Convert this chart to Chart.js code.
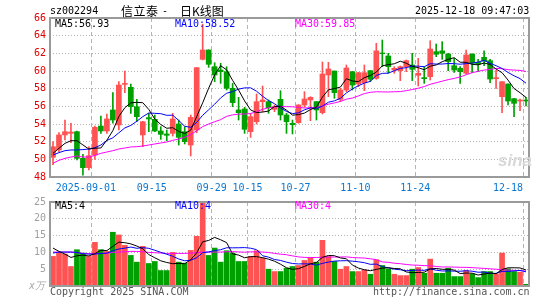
<!DOCTYPE html>
<html>
<head>
<meta charset="utf-8">
<script src="https://cdn.jsdelivr.net/npm/chart.js@4.4.1/dist/chart.umd.min.js"></script>
<style>
body{margin:0;background:#fff;width:545px;height:300px;overflow:hidden;position:relative;font-family:'DejaVu Sans Mono',monospace;font-size:10px;}
.t{position:absolute;white-space:nowrap;line-height:12px;}
.cjk{font-family:'Noto Sans CJK SC';font-size:12px;line-height:14px;color:#000;}
#kcanvas{position:absolute;left:0;top:0;}
#vcanvas{position:absolute;left:0;top:190px;}
</style>
</head>
<body>
<canvas id="kcanvas" width="545" height="196"></canvas>
<canvas id="vcanvas" width="545" height="110"></canvas>

<div class="t" style="left:50px;top:5px;color:#000">sz002294</div>
<div class="t cjk" style="left:121px;top:4px;letter-spacing:0.5px">信立泰</div>
<div class="t" style="left:162px;top:5px;color:#000">-</div>
<div class="t cjk" style="left:180px;top:4px">日K线图</div>
<div class="t" style="left:415px;top:5px;color:#000">2025-12-18 09:47:03</div>

<div class="t" style="left:55px;top:18px;color:#000">MA5:56.93</div>
<div class="t" style="left:175px;top:18px;color:#0000ff">MA10:58.52</div>
<div class="t" style="left:295px;top:18px;color:#ff00ff">MA30:59.85</div>

<div class="t" style="left:498px;top:151px;color:#d8d8d8;font-family:'Liberation Sans';font-size:17px;font-weight:bold;font-style:italic;line-height:20px">sina</div>

<div class="t" style="left:55px;top:200px;color:#000">MA5:4</div>
<div class="t" style="left:175px;top:200px;color:#0000ff">MA10:4</div>
<div class="t" style="left:295px;top:200px;color:#ff00ff">MA30:4</div>

<div class="t" style="left:29px;top:280px;color:#aaa;font-style:italic">x万</div>
<div class="t" style="left:50px;top:286px;color:#555">Copyright 2025 SINA.COM</div>
<div class="t" style="left:373px;top:286px;color:#555">http://finance.sina.com.cn</div>

<script>
// trading days shown on the chart
var days=['2025-08-21','2025-08-22','2025-08-25','2025-08-26','2025-08-27','2025-08-28','2025-08-29',
'2025-09-01','2025-09-02','2025-09-03','2025-09-04','2025-09-05','2025-09-08','2025-09-09','2025-09-10','2025-09-11','2025-09-12',
'2025-09-15','2025-09-16','2025-09-17','2025-09-18','2025-09-19','2025-09-22','2025-09-23','2025-09-24','2025-09-25','2025-09-26',
'2025-09-29','2025-09-30','2025-10-09','2025-10-10','2025-10-13','2025-10-14','2025-10-15','2025-10-16','2025-10-17',
'2025-10-20','2025-10-21','2025-10-22','2025-10-23','2025-10-24','2025-10-27','2025-10-28','2025-10-29','2025-10-30','2025-10-31',
'2025-11-03','2025-11-04','2025-11-05','2025-11-06','2025-11-07','2025-11-10','2025-11-11','2025-11-12','2025-11-13','2025-11-14',
'2025-11-17','2025-11-18','2025-11-19','2025-11-20','2025-11-21','2025-11-24','2025-11-25','2025-11-26','2025-11-27','2025-11-28',
'2025-12-01','2025-12-02','2025-12-03','2025-12-04','2025-12-05','2025-12-08','2025-12-09','2025-12-10','2025-12-11','2025-12-12',
'2025-12-15','2025-12-16','2025-12-17','2025-12-18'];

var tickDays=['2025-09-01','2025-09-15','2025-09-29','2025-10-15','2025-10-27','2025-11-10','2025-11-24','2025-12-18'];
var tickText=['2025-09-01  ','09-15','09-29','10-15','10-27','11-10','11-24','12-18'];

var openP=[50.23,51.06,52.76,52.94,53.13,50.11,49.06,50.49,53.77,53.21,
55.59,53.89,58.49,58.15,55.96,52.76,54.72,54.53,53.21,52.87,
52.94,54.00,53.13,51.62,53.32,61.32,62.38,60.49,60.11,59.92,
58.04,55.59,55.70,53.13,54.26,56.53,56.53,55.66,56.79,55.02,
54.08,54.15,56.15,56.72,56.53,55.28,59.55,60.00,56.79,57.85,
59.92,58.53,58.68,60.04,59.17,62.04,61.70,60.11,60.04,60.49,
60.68,59.51,59.25,59.36,62.19,62.28,61.92,60.60,60.30,59.74,
61.92,60.98,61.55,61.17,59.13,57.09,58.53,56.87,56.60,56.72];
var highP=[52.00,53.02,54.45,54.08,53.21,50.57,51.43,53.77,54.91,55.13,
57.55,58.79,60.00,58.53,56.79,54.30,55.21,55.02,53.70,53.32,
55.21,54.45,53.70,55.02,60.40,65.30,62.40,60.94,60.87,60.49,
58.60,57.02,55.89,55.21,57.40,58.30,56.72,56.15,57.77,55.21,
54.45,56.20,57.66,57.09,56.55,61.02,60.98,60.00,58.04,60.68,
59.95,59.85,60.68,60.05,63.13,63.51,62.00,60.49,60.57,61.25,
62.00,61.43,60.49,63.43,63.06,63.32,62.00,61.43,60.49,62.38,
61.95,61.32,62.28,61.32,60.11,58.80,58.55,56.90,56.83,57.02];
var lowP=[49.40,50.87,52.19,51.89,49.92,48.22,48.79,50.00,52.94,52.94,
54.08,53.32,57.55,55.21,54.26,51.43,53.13,53.13,52.26,52.11,
52.64,51.62,51.74,50.38,53.00,61.25,60.41,58.79,58.60,57.85,
55.96,54.45,52.94,52.49,54.00,55.40,55.21,55.40,54.45,52.94,
52.87,54.08,55.89,54.38,54.45,55.13,57.09,56.91,56.53,57.66,
57.85,58.23,57.77,58.79,59.06,60.49,59.74,59.74,58.91,59.92,
58.91,58.30,58.60,58.98,61.62,61.32,60.04,59.85,58.60,59.66,
59.81,59.92,60.60,58.68,58.04,55.28,56.15,54.83,55.51,56.04];
var closeP=[51.43,52.76,53.13,53.09,50.11,49.06,50.41,53.62,53.21,54.57,
54.45,58.41,58.60,55.96,54.83,54.26,54.57,53.21,52.83,52.72,
54.57,52.49,52.00,54.75,60.38,62.38,60.76,59.55,59.92,58.04,
56.42,55.28,53.40,54.83,56.53,56.72,55.85,55.96,55.02,54.26,
53.92,56.15,56.83,57.02,55.59,59.66,60.23,57.55,57.85,60.34,
58.41,59.81,59.81,59.06,62.28,61.96,60.49,60.30,60.49,61.17,
60.19,59.74,59.13,62.49,61.89,62.00,61.06,60.11,59.92,61.81,
60.87,60.79,61.13,59.09,59.25,58.79,56.60,56.34,56.72,56.60];

// volume, x万
var vol=[8.8,10.0,9.5,5.8,10.8,9.8,8.8,13.0,10.8,10.3,
16.0,15.2,12.1,9.1,7.1,11.8,6.7,7.3,4.6,4.6,
10.0,7.1,6.8,10.6,14.8,26.5,9.1,11.3,7.1,10.5,
9.8,7.3,7.3,8.8,10.5,8.3,5.0,4.3,4.3,5.3,
5.8,6.1,7.6,8.3,7.1,13.6,8.8,7.3,5.0,5.8,
4.3,4.3,4.8,3.5,7.8,6.1,5.1,3.5,3.1,3.1,
5.0,5.5,3.8,8.0,3.8,3.8,5.3,2.8,2.8,4.6,
3.6,2.5,4.3,4.3,3.6,9.8,5.1,4.3,4.1,0.5];

var ma5Head=[50.68,51.25,51.81,52.11];
var ma10Head=[50.49,50.76,50.98,51.06,51.06,51.10,51.17,51.32,51.62];
var ma30Head=[49.55,49.89,50.11,50.26,50.38,50.26,50.26,50.45,50.68,50.83,
50.98,51.17,51.28,51.40,51.43,51.51,51.62,51.74,51.85,51.96,
52.15,52.30,52.49,52.79,53.25,53.70,54.00,54.26,54.49];
var volMa5Head=[11.3,10.3,9.5,8.5];
var volMa10Head=[9.8,10.1,10.1,10.1,10.0,9.6,9.5,9.5,9.7];
var volMa30Head=[10.1,10.1,10.1,10.1,9.9,9.7,9.6,9.6,9.7,9.8,
10.0,10.1,10.2,10.3,10.3,10.2,10.0,9.9,9.8,9.7,
9.7,9.7,9.7,9.8,9.9,10.1,10.1,10.1,10.1];

var upColor='#ff5252';
var downColor='#00a000';
var gridColor='#b4b4b4';
var monoFont={family:'DejaVu Sans Mono',size:10};

function movingAvg(src,n,head){
	var out=[];
	for(var i=0;i<src.length;i++){
		if(i<n-1){
			out.push(head[i]);
			continue;
		}
		var s=0;
		for(var k=i-n+1;k<=i;k++){
			s+=src[k];
		}
		out.push(s/n);
	}
	return out;
}

var bodyData=[],wickData=[],volData=[],barColor=[];
for(var i=0;i<days.length;i++){
	bodyData.push([openP[i],closeP[i]]);
	wickData.push([lowP[i],highP[i]]);
	volData.push(vol[i]);
	barColor.push(closeP[i]>=openP[i]?upColor:downColor);
}

var framePlugin={
	id:'frame',
	afterDraw:function(chart){
		var a=chart.chartArea;
		var c=chart.ctx;
		c.save();
		c.strokeStyle='#9a9a9a';
		c.lineWidth=2;
		c.strokeRect(a.left,a.top,a.right-a.left,a.bottom-a.top);
		c.restore();
	}
};

function xGrid(ctx){
	var d=days[ctx.index];
	if(d && tickDays.indexOf(d)>=0 && ctx.index>0){
		return gridColor;
	}
	return 'rgba(0,0,0,0)';
}

function lineSet(data,color){
	return {type:'line',data:data,borderColor:color,borderWidth:1,pointRadius:0,tension:0,fill:false};
}

var kctx=document.getElementById('kcanvas').getContext('2d');
var kChart=new Chart(kctx,{
	type:'bar',
	data:{
		labels:days,
		datasets:[
			lineSet(movingAvg(closeP,5,ma5Head),'#000000'),
			lineSet(movingAvg(closeP,10,ma10Head),'#0000ff'),
			lineSet(movingAvg(closeP,30,ma30Head),'#ff00ff'),
			{data:bodyData,backgroundColor:barColor,barThickness:5,grouped:false,borderWidth:0},
			{data:wickData,backgroundColor:barColor,barThickness:1,grouped:false,borderWidth:0}
		]
	},
	options:{
		responsive:false,
		animation:false,
		layout:{padding:{top:18,right:16,left:0,bottom:0}},
		plugins:{legend:{display:false},tooltip:{enabled:false}},
		scales:{
			x:{
				offset:true,
				grid:{offset:true,color:xGrid,lineWidth:1,drawTicks:false},
				border:{display:false,dash:[4,3]},
				ticks:{
					autoSkip:false,maxRotation:0,minRotation:0,align:'inner',
					color:'#0a78d2',font:monoFont,padding:5,labelOffset:-3,
					callback:function(v,idx){
						var p=tickDays.indexOf(days[idx]);
						return p>=0?tickText[p]:'';
					}
				},
				afterFit:function(s){s.height=19;}
			},
			y:{
				min:48,max:66,
				grid:{
					color:function(ctx){
						var v=ctx.tick.value;
						return (v==48||v==66)?'rgba(0,0,0,0)':gridColor;
					},
					drawTicks:false
				},
				border:{display:false,dash:[1,2]},
				ticks:{stepSize:2,color:'#e00000',font:monoFont,padding:4},
				afterFit:function(s){s.width=50;}
			}
		}
	},
	plugins:[framePlugin]
});

var vctx=document.getElementById('vcanvas').getContext('2d');
var vChart=new Chart(vctx,{
	type:'bar',
	data:{
		labels:days,
		datasets:[
			lineSet(movingAvg(vol,5,volMa5Head),'#000000'),
			lineSet(movingAvg(vol,10,volMa10Head),'#0000ff'),
			lineSet(movingAvg(vol,30,volMa30Head),'#ff00ff'),
			{data:volData,backgroundColor:barColor,barThickness:5,borderWidth:0}
		]
	},
	options:{
		responsive:false,
		animation:false,
		layout:{padding:{top:12,right:16,left:0,bottom:0}},
		plugins:{legend:{display:false},tooltip:{enabled:false}},
		scales:{
			x:{
				offset:true,
				grid:{offset:true,color:xGrid,lineWidth:1,drawTicks:false},
				border:{display:false,dash:[4,3]},
				ticks:{display:false,autoSkip:false},
				afterFit:function(s){s.height=14;}
			},
			y:{
				min:0,max:25,
				grid:{
					color:function(ctx){
						var v=ctx.tick.value;
						return (v==0||v==25)?'rgba(0,0,0,0)':gridColor;
					},
					drawTicks:false
				},
				border:{display:false,dash:[1,2]},
				ticks:{
					stepSize:5,color:'#a0a0a0',font:monoFont,padding:4,
					callback:function(v){return v==0?'':v;}
				},
				afterFit:function(s){s.width=50;}
			}
		}
	},
	plugins:[framePlugin]
});
</script>
</body>
</html>
